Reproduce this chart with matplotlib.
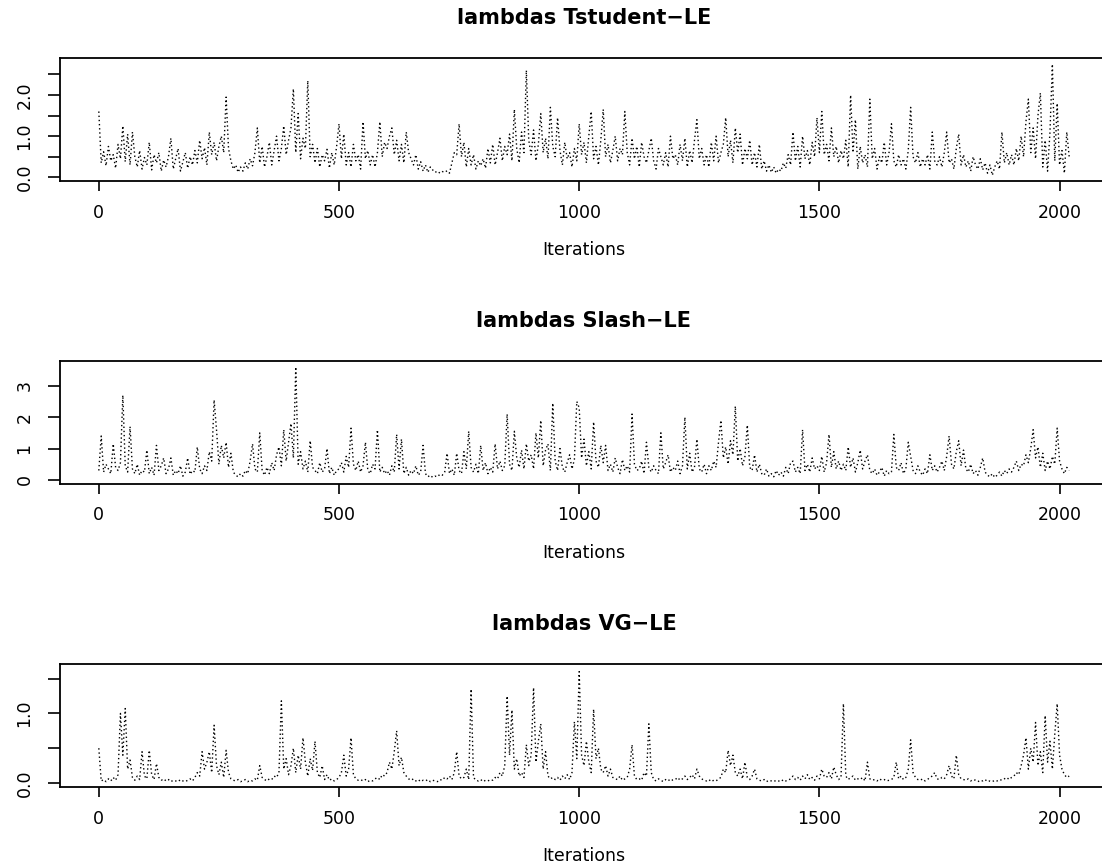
import numpy as np
import matplotlib
matplotlib.use("Agg")
import matplotlib.pyplot as plt

plt.rcParams['font.family'] = ['DejaVu Sans']

# ---- data (values read every 5 iterations) ----
step = 5
tstudent = [
    1.60, 0.35, 0.62, 0.28, 0.75, 0.40, 0.55, 0.22, 0.80, 0.45,
    1.25, 0.38, 1.05, 0.30, 1.10, 0.50, 0.25, 0.65, 0.20, 0.48,
    0.30, 0.85, 0.18, 0.55, 0.35, 0.60, 0.15, 0.42, 0.25, 0.50,
    0.95, 0.20, 0.45, 0.70, 0.15, 0.38, 0.60, 0.22, 0.50, 0.30,
    0.65, 0.35, 0.90, 0.45, 0.72, 0.30, 1.10, 0.55, 0.85, 0.40,
    0.75, 1.00, 0.60, 1.95, 0.70, 0.40, 0.20, 0.30, 0.12, 0.25,
    0.15, 0.35, 0.20, 0.45, 0.28, 0.60, 1.20, 0.35, 0.75, 0.25,
    0.50, 0.85, 0.30, 0.65, 1.00, 0.40, 0.70, 1.25, 0.55, 0.90,
    1.20, 2.15, 0.60, 1.55, 0.45, 0.95, 0.70, 2.35, 0.50, 0.80,
    0.35, 0.70, 0.25, 0.55, 0.40, 0.68, 0.22, 0.60, 0.30, 0.75,
    1.30, 0.45, 1.05, 0.30, 0.60, 0.25, 0.80, 0.40, 0.55, 0.20,
    1.35, 0.45, 0.65, 0.30, 0.55, 0.25, 0.60, 1.35, 0.50, 0.85,
    0.70, 1.00, 1.20, 0.55, 0.90, 0.40, 0.80, 0.35, 1.10, 0.60,
    0.45, 0.30, 0.55, 0.20, 0.38, 0.15, 0.30, 0.12, 0.25, 0.18,
    0.12, 0.15, 0.10, 0.14, 0.12, 0.16, 0.10, 0.35, 0.60, 0.55,
    1.30, 0.50, 0.85, 0.25, 0.70, 0.30, 0.55, 0.20, 0.40, 0.28,
    0.45, 0.22, 0.70, 0.35, 0.80, 0.30, 0.60, 0.95, 0.40, 0.75,
    0.55, 1.05, 0.40, 1.65, 0.70, 0.35, 1.10, 0.60, 2.60, 0.90,
    0.55, 1.15, 0.40, 0.80, 1.55, 0.60, 0.95, 0.45, 1.70, 0.75,
    0.50, 1.45, 0.65, 0.30, 0.85, 0.45, 0.60, 0.25, 0.70, 0.40,
    1.30, 0.55, 0.85, 0.35, 1.00, 1.60, 0.45, 0.75, 0.30, 0.90,
    1.65, 0.50, 0.80, 0.35, 0.65, 1.00, 0.40, 0.70, 0.55, 1.60,
    0.60, 0.30, 0.95, 0.45, 0.75, 0.25, 0.85, 0.50, 0.35, 0.65,
    0.95, 0.40, 0.20, 0.70, 0.50, 0.30, 0.60, 0.25, 1.00, 0.45,
    0.55, 0.30, 0.80, 0.40, 0.95, 0.25, 0.65, 0.35, 0.90, 1.40,
    0.45, 0.70, 0.30, 0.55, 0.25, 0.85, 0.40, 1.00, 0.35, 0.60,
    0.80, 1.45, 0.50, 0.90, 0.35, 1.20, 0.60, 1.05, 0.30, 0.70,
    0.45, 0.90, 0.30, 0.60, 0.25, 0.80, 0.20, 0.40, 0.15, 0.30,
    0.12, 0.25, 0.10, 0.20, 0.15, 0.35, 0.22, 0.55, 0.30, 1.10,
    0.40, 0.75, 0.25, 1.00, 0.45, 0.65, 0.30, 0.85, 0.50, 1.45,
    0.60, 1.60, 0.55, 0.80, 0.40, 1.20, 0.50, 0.75, 0.35, 0.65,
    0.45, 0.90, 0.25, 2.00, 0.60, 1.40, 0.20, 0.75, 0.35, 0.55,
    0.25, 1.90, 0.45, 0.70, 0.20, 0.50, 0.35, 0.85, 0.30, 0.60,
    1.30, 0.40, 0.25, 0.55, 0.30, 0.45, 0.20, 0.65, 1.70, 0.50,
    0.35, 0.60, 0.25, 0.45, 0.30, 0.55, 0.20, 1.10, 0.40, 0.30,
    0.50, 0.25, 0.60, 1.10, 0.35, 0.45, 0.20, 0.70, 1.05, 0.30,
    0.55, 0.25, 0.40, 0.15, 0.50, 0.30, 0.20, 0.45, 0.18, 0.35,
    0.10, 0.30, 0.05, 0.25, 0.40, 0.20, 1.10, 0.35, 0.60, 0.30,
    0.55, 0.30, 0.70, 0.40, 1.00, 0.50, 1.35, 1.90, 0.60, 1.20,
    0.45, 1.50, 2.05, 0.25, 0.90, 0.15, 1.10, 2.75, 0.40, 1.80,
    0.30, 0.65, 0.10, 1.10, 0.50,
]
slash = [
    0.30, 1.40, 0.25, 0.50, 0.35, 0.20, 1.15, 0.40, 0.30, 0.55,
    2.70, 0.45, 0.25, 1.70, 0.35, 0.20, 0.50, 0.15, 0.30, 0.25,
    0.95, 0.20, 0.40, 0.15, 1.10, 0.30, 0.45, 0.70, 0.20, 0.35,
    0.70, 0.15, 0.30, 0.20, 0.45, 0.12, 0.25, 0.70, 0.18, 0.30,
    0.25, 1.05, 0.35, 0.20, 0.45, 0.30, 0.90, 0.60, 2.55, 1.60,
    0.50, 1.10, 0.70, 1.20, 0.40, 0.85, 0.25, 0.15, 0.10, 0.20,
    0.12, 0.30, 0.20, 0.60, 1.15, 0.35, 0.25, 1.50, 0.30, 0.15,
    0.40, 0.20, 0.55, 0.30, 0.80, 1.05, 0.45, 1.60, 0.60, 1.20,
    1.80, 0.70, 3.60, 0.50, 0.90, 0.35, 0.60, 0.25, 1.25, 0.40,
    0.30, 0.20, 0.55, 0.25, 0.35, 1.00, 0.20, 0.40, 0.15, 0.30,
    0.35, 0.55, 0.25, 0.75, 0.40, 1.65, 0.50, 0.30, 0.60, 0.25,
    0.45, 1.20, 0.30, 0.20, 0.50, 0.35, 1.60, 0.25, 0.40, 0.20,
    0.30, 0.15, 0.45, 0.25, 1.45, 0.35, 1.30, 0.20, 0.40, 0.15,
    0.30, 0.20, 0.45, 0.15, 0.25, 1.10, 0.20, 0.10, 0.15, 0.08,
    0.12, 0.10, 0.18, 0.15, 0.25, 0.85, 0.20, 0.35, 0.15, 0.85,
    0.30, 0.20, 0.90, 0.35, 1.55, 0.40, 0.25, 0.50, 0.20, 1.10,
    0.30, 0.55, 0.20, 0.40, 0.25, 1.15, 0.35, 0.60, 0.30, 0.45,
    2.10, 0.50, 0.30, 1.55, 0.70, 0.40, 0.95, 0.35, 1.15, 0.60,
    0.80, 0.35, 1.50, 0.70, 1.90, 0.45, 0.95, 1.15, 0.30, 2.45,
    0.60, 0.30, 1.00, 0.40, 0.25, 0.55, 0.80, 0.35, 0.65, 2.50,
    2.30, 0.70, 1.30, 0.45, 0.90, 0.35, 1.85, 0.60, 0.40, 1.10,
    0.55, 1.10, 0.30, 0.50, 0.25, 0.70, 0.40, 0.20, 0.65, 0.30,
    0.45, 0.25, 2.10, 0.50, 0.30, 0.35, 0.60, 0.20, 1.20, 0.40,
    0.25, 0.45, 0.30, 0.20, 1.50, 0.35, 0.55, 0.80, 0.25, 0.40,
    0.30, 0.60, 0.20, 0.45, 2.00, 0.35, 0.85, 0.25, 0.40, 1.30,
    0.35, 0.25, 0.50, 0.20, 0.45, 0.30, 0.60, 0.40, 1.20, 1.90,
    0.70, 1.05, 0.50, 1.25, 0.80, 2.35, 0.60, 1.00, 0.45, 0.75,
    1.75, 0.40, 0.30, 0.80, 0.25, 0.50, 0.20, 0.15, 0.35, 0.12,
    0.20, 0.10, 0.30, 0.15, 0.25, 0.12, 0.40, 0.20, 0.55, 0.60,
    0.25, 0.40, 0.20, 1.60, 0.30, 0.50, 0.25, 0.70, 0.35, 0.45,
    0.30, 0.75, 0.25, 0.55, 1.45, 0.40, 0.90, 0.35, 0.60, 0.30,
    0.50, 0.30, 1.05, 0.40, 0.70, 0.25, 0.55, 0.95, 0.35, 0.60,
    0.80, 0.30, 0.20, 0.35, 0.15, 0.25, 0.40, 0.12, 0.30, 0.20,
    0.25, 1.45, 0.40, 0.30, 0.55, 0.20, 0.35, 1.20, 0.75, 0.30,
    0.20, 0.45, 0.25, 0.15, 0.35, 0.20, 0.80, 0.30, 0.45, 0.25,
    0.40, 0.60, 0.30, 0.75, 1.40, 0.50, 0.35, 0.90, 1.25, 0.45,
    0.95, 0.35, 0.25, 0.50, 0.20, 0.30, 0.15, 0.40, 0.70, 0.25,
    0.15, 0.10, 0.20, 0.08, 0.15, 0.25, 0.12, 0.30, 0.20, 0.35,
    0.25, 0.40, 0.60, 0.30, 0.50, 0.45, 0.80, 0.55, 1.00, 1.60,
    0.70, 1.05, 0.40, 0.85, 0.30, 0.60, 0.35, 0.75, 0.50, 1.65,
    0.60, 0.35, 0.20, 0.40, 0.30,
]
vg = [
    0.50, 0.03, 0.05, 0.02, 0.06, 0.03, 0.08, 0.04, 0.12, 1.00,
    0.40, 1.07, 0.20, 0.33, 0.08, 0.04, 0.10, 0.05, 0.45, 0.10,
    0.06, 0.47, 0.12, 0.05, 0.28, 0.08, 0.04, 0.06, 0.03, 0.05,
    0.02, 0.04, 0.03, 0.02, 0.05, 0.03, 0.02, 0.04, 0.06, 0.03,
    0.08, 0.15, 0.10, 0.45, 0.20, 0.30, 0.45, 0.15, 0.83, 0.25,
    0.12, 0.30, 0.08, 0.47, 0.15, 0.06, 0.04, 0.03, 0.05, 0.02,
    0.03, 0.05, 0.02, 0.04, 0.03, 0.06, 0.04, 0.25, 0.08, 0.05,
    0.03, 0.06, 0.05, 0.10, 0.08, 0.15, 1.18, 0.20, 0.35, 0.12,
    0.25, 0.50, 0.15, 0.40, 0.20, 0.65, 0.30, 0.10, 0.35, 0.18,
    0.60, 0.15, 0.08, 0.25, 0.05, 0.12, 0.04, 0.06, 0.03, 0.05,
    0.08, 0.15, 0.40, 0.10, 0.20, 0.65, 0.12, 0.06, 0.04, 0.05,
    0.03, 0.05, 0.02, 0.04, 0.03, 0.06, 0.08, 0.05, 0.12, 0.10,
    0.15, 0.30, 0.20, 0.45, 0.75, 0.25, 0.37, 0.15, 0.10, 0.06,
    0.04, 0.06, 0.03, 0.05, 0.02, 0.04, 0.03, 0.05, 0.02, 0.04,
    0.03, 0.02, 0.05, 0.04, 0.08, 0.06, 0.10, 0.05, 0.15, 0.45,
    0.10, 0.06, 0.08, 0.20, 0.05, 1.35, 0.08, 0.04, 0.03, 0.05,
    0.02, 0.04, 0.03, 0.05, 0.04, 0.08, 0.06, 0.15, 0.10, 0.25,
    1.25, 0.40, 1.05, 0.20, 0.35, 0.10, 0.15, 0.08, 0.55, 0.25,
    0.40, 1.37, 0.30, 0.60, 0.85, 0.20, 0.45, 0.10, 0.06, 0.08,
    0.05, 0.08, 0.04, 0.10, 0.06, 0.12, 0.05, 0.15, 0.88, 0.35,
    1.60, 0.40, 0.25, 0.60, 0.30, 0.15, 1.06, 0.35, 0.50, 0.20,
    0.15, 0.25, 0.10, 0.20, 0.08, 0.06, 0.05, 0.10, 0.04, 0.06,
    0.08, 0.20, 0.55, 0.10, 0.05, 0.06, 0.04, 0.15, 0.10, 0.85,
    0.15, 0.05, 0.03, 0.06, 0.04, 0.02, 0.05, 0.03, 0.06, 0.04,
    0.05, 0.08, 0.04, 0.06, 0.10, 0.05, 0.08, 0.12, 0.06, 0.20,
    0.10, 0.06, 0.04, 0.03, 0.05, 0.02, 0.04, 0.03, 0.06, 0.08,
    0.20, 0.15, 0.47, 0.25, 0.40, 0.15, 0.10, 0.20, 0.06, 0.30,
    0.08, 0.05, 0.10, 0.20, 0.06, 0.04, 0.03, 0.05, 0.02, 0.04,
    0.03, 0.02, 0.04, 0.03, 0.02, 0.05, 0.03, 0.04, 0.06, 0.10,
    0.05, 0.08, 0.04, 0.10, 0.06, 0.12, 0.05, 0.08, 0.04, 0.10,
    0.06, 0.20, 0.10, 0.08, 0.15, 0.06, 0.23, 0.12, 0.05, 0.08,
    1.14, 0.10, 0.05, 0.08, 0.10, 0.04, 0.06, 0.05, 0.08, 0.03,
    0.30, 0.06, 0.04, 0.05, 0.03, 0.06, 0.04, 0.05, 0.03, 0.04,
    0.05, 0.08, 0.30, 0.06, 0.10, 0.05, 0.08, 0.20, 0.62, 0.15,
    0.08, 0.05, 0.04, 0.06, 0.03, 0.05, 0.08, 0.10, 0.15, 0.06,
    0.05, 0.08, 0.06, 0.12, 0.25, 0.10, 0.06, 0.40, 0.12, 0.06,
    0.05, 0.04, 0.06, 0.03, 0.05, 0.04, 0.02, 0.04, 0.03, 0.05,
    0.02, 0.03, 0.02, 0.04, 0.03, 0.05, 0.04, 0.06, 0.08, 0.05,
    0.08, 0.10, 0.15, 0.12, 0.25, 0.40, 0.65, 0.20, 0.50, 0.30,
    0.87, 0.25, 0.45, 0.15, 0.97, 0.30, 0.60, 0.20, 0.70, 1.14,
    0.40, 0.20, 0.12, 0.08, 0.10,
]

titles = ["lambdas Tstudent\u2212LE", "lambdas Slash\u2212LE", "lambdas VG\u2212LE"]
series = [tstudent, slash, vg]
xtick_vals = [0, 500, 1000, 1500, 2000]
ytick_vals = [[0, 0.5, 1.0, 1.5, 2.0, 2.5], [0, 1, 2, 3], [0, 0.5, 1.0, 1.5]]
ytick_labels = [["0.0", "", "1.0", "", "2.0", ""], ["0", "1", "2", "3"], ["0.0", "", "1.0", ""]]
ylims = [(-0.09, 2.90), (-0.13, 3.79), (-0.057, 1.71)]
xlabel = "Iterations"

# ---- layout (pixels) ----
W, H = 1102, 867
fig = plt.figure(figsize=(W / 100, H / 100), dpi=100)
left_px, right_px = 60, 1108
boxes = [(58, 181), (361, 484), (664, 787)]

for i in range(3):
    top, bot = boxes[i]
    ax = fig.add_axes([left_px / W, 1 - bot / H, (right_px - left_px) / W, (bot - top) / H])
    vals = series[i]
    iters = np.arange(len(vals)) * step
    ax.plot(iters, vals, color="black", lw=1.0, linestyle=(0, (1, 2)))
    ax.set_xlim(-80.8, 2100.8)
    ax.set_ylim(*ylims[i])
    ax.set_xticks(xtick_vals)
    ax.set_xticklabels([str(v) for v in xtick_vals], fontsize=12.5)
    ax.set_yticks(ytick_vals[i])
    ax.set_yticklabels(ytick_labels[i], fontsize=12.5, rotation=90, va="center")
    ax.tick_params(axis="x", length=7.2, width=1.2, pad=9)
    ax.tick_params(axis="y", length=9, width=1.2, pad=10)
    for sp in ax.spines.values():
        sp.set_linewidth(1.3)
    ax.annotate(titles[i], xy=(0.5, 1.0), xycoords="axes fraction",
                xytext=(0, 40), textcoords="offset pixels",
                ha="center", va="center", fontsize=15, fontweight="bold")
    ax.annotate(xlabel, xy=(0.5, 0.0), xycoords="axes fraction",
                xytext=(0, -69), textcoords="offset pixels",
                ha="center", va="center", fontsize=12.5)

fig.savefig("out.png", dpi=100)
